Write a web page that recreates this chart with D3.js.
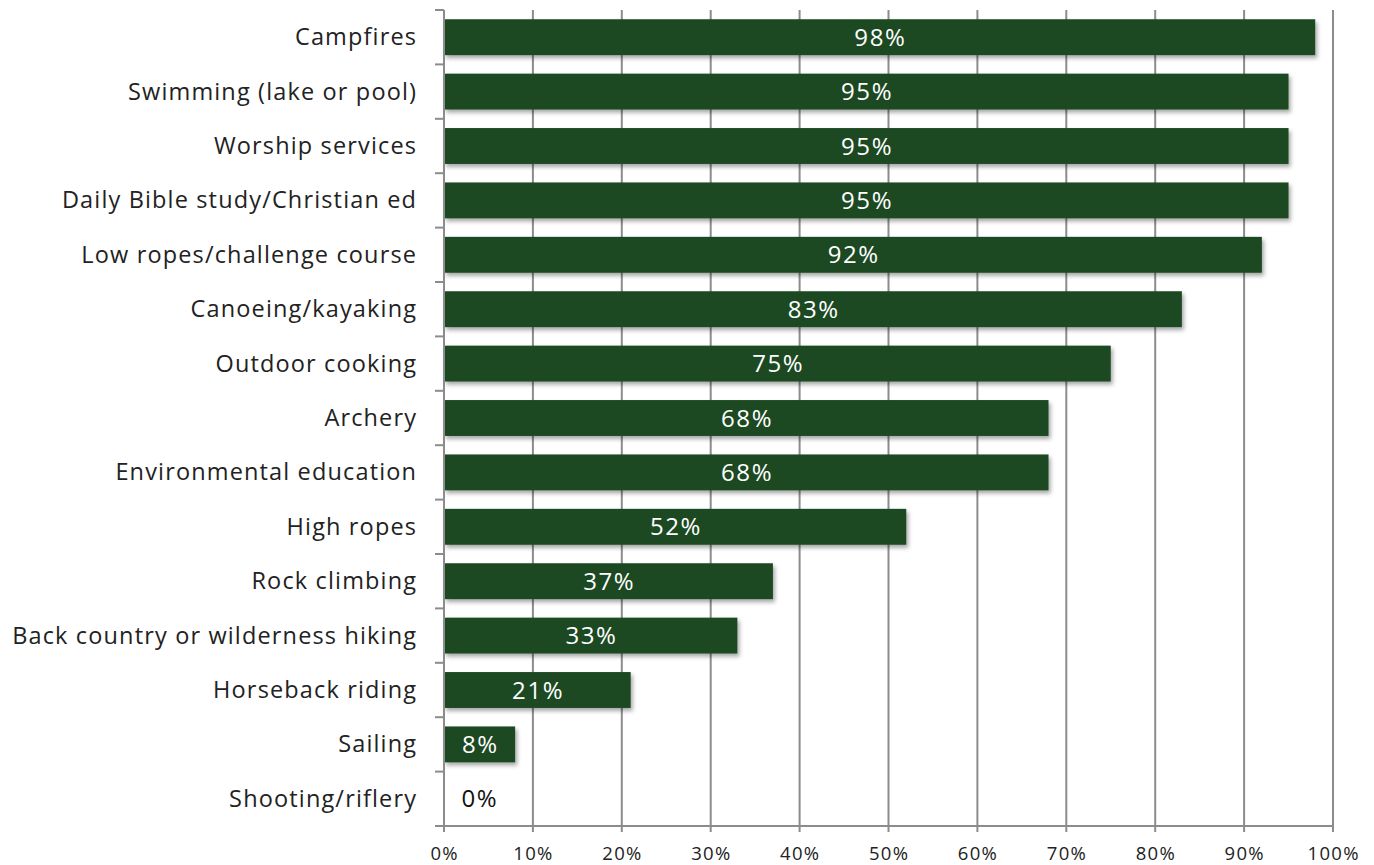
<!DOCTYPE html>
<html><head><meta charset="utf-8">
<script src="https://cdn.jsdelivr.net/npm/d3@7/dist/d3.min.js"></script>
<style>body{margin:0;background:#fff;} svg{display:block;}</style>
</head><body>
<svg id="c" width="1374" height="865"></svg>
<script>
const categories = ["Campfires","Swimming (lake or pool)","Worship services","Daily Bible study/Christian ed","Low ropes/challenge course","Canoeing/kayaking","Outdoor cooking","Archery","Environmental education","High ropes","Rock climbing","Back country or wilderness hiking","Horseback riding","Sailing","Shooting/riflery"];
const values = [98,95,95,95,92,83,75,68,68,52,37,33,21,8,0];
const xTicks = [0,10,20,30,40,50,60,70,80,90,100];

const svg = d3.select("#c");
const font = "'Open Sans', Lato, sans-serif";
const x0 = 444, x1 = 1333, yTop = 10, yBot = 826;
const x = d3.scaleLinear().domain([0,100]).range([x0,x1]);
const y = d3.scaleBand().domain(categories).range([yTop,yBot]).paddingInner(0.34).paddingOuter(0.17);
const grey = "#8c8c8c";

const defs = svg.append("defs");
const f = defs.append("filter").attr("id","sh").attr("x","-5%").attr("y","-20%").attr("width","115%").attr("height","160%");
f.append("feDropShadow").attr("dx",2).attr("dy",3).attr("stdDeviation",2).attr("flood-color","#000").attr("flood-opacity",0.35);

// gridlines
svg.append("g").selectAll("line").data(xTicks.slice(1)).join("line")
  .attr("x1",d=>x(d)).attr("x2",d=>x(d)).attr("y1",yTop).attr("y2",yBot+6)
  .attr("stroke",grey).attr("stroke-width",2);

// bars
svg.append("g").selectAll("rect").data(values).join("rect")
  .attr("x",x(0)).attr("y",(d,i)=>y(categories[i]))
  .attr("width",d=>x(d)-x(0)).attr("height",y.bandwidth())
  .attr("fill","#1c4a23").attr("filter","url(#sh)");

// y axis line and ticks
svg.append("line").attr("x1",x0).attr("x2",x0).attr("y1",yTop).attr("y2",yBot+6).attr("stroke",grey).attr("stroke-width",2);
const yTickPos = d3.range(categories.length+1).map(i=>yTop + i*(yBot-yTop)/categories.length);
svg.append("g").selectAll("line").data(yTickPos).join("line")
  .attr("x1",x0-9).attr("x2",x0).attr("y1",d=>d).attr("y2",d=>d).attr("stroke",grey).attr("stroke-width",2);

// x axis line
svg.append("line").attr("x1",x0-9).attr("x2",x1).attr("y1",yBot).attr("y2",yBot).attr("stroke",grey).attr("stroke-width",2);

// x tick labels
const tls = 1.3;
svg.append("g").selectAll("text").data(xTicks).join("text")
  .attr("x",d=>x(d)+tls/2).attr("y",yBot+29).attr("text-anchor","middle")
  .attr("dominant-baseline","middle").attr("font-family",font).attr("font-size",18.5)
  .attr("letter-spacing",tls).attr("fill","#222")
  .text(d=>d+"%");

// category labels
const cls = 1.15;
svg.append("g").selectAll("text").data(categories).join("text")
  .attr("x",416+cls).attr("y",d=>y(d)+y.bandwidth()/2-1).attr("text-anchor","end")
  .attr("dominant-baseline","central").attr("font-family",font).attr("font-size",23.5)
  .attr("letter-spacing",cls).attr("fill","#222")
  .text(d=>d);

// value labels
const vls = 1.6;
svg.append("g").selectAll("text").data(values).join("text")
  .attr("x",d=> (d===0 ? x(0)+35 : (x(0)+x(d))/2) + vls/2)
  .attr("y",(d,i)=>y(categories[i])+y.bandwidth()/2-1)
  .attr("text-anchor","middle").attr("dominant-baseline","central")
  .attr("font-family",font).attr("font-size",24).attr("letter-spacing",vls)
  .attr("fill",d=>d===0?"#111":"#fff")
  .text(d=>d+"%");
</script>
</body></html>
